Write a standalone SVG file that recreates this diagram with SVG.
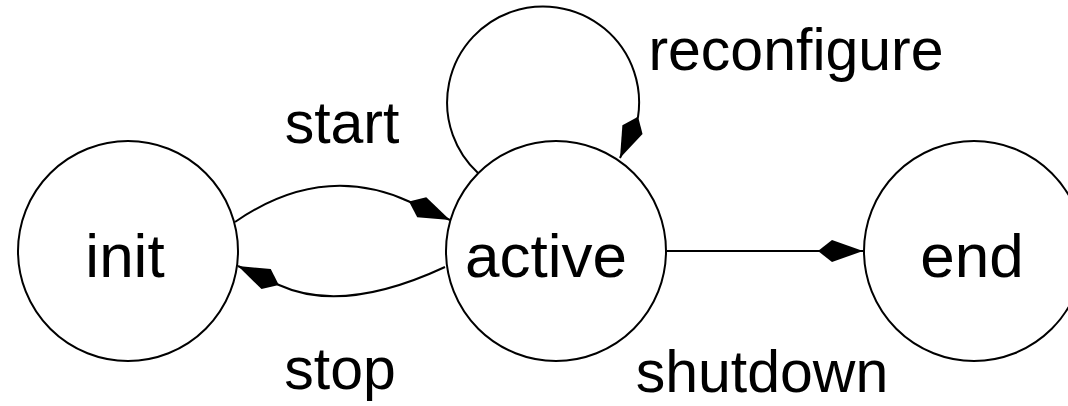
<svg xmlns="http://www.w3.org/2000/svg" width="1068" height="406" viewBox="0 0 1068 406">
  <style>
    .state circle { fill: #fff; stroke: #000; stroke-width: 2; }
    .state text { font-family: "Liberation Sans", Arial, Helvetica, sans-serif; font-size: 62px; text-anchor: middle; fill: #000; }
    .edge path { fill: none; stroke: #000; stroke-width: 2; marker-end: url(#kite); }
    .label { font-family: "Liberation Sans", Arial, Helvetica, sans-serif; font-size: 59px; text-anchor: middle; fill: #000; }
  </style>
  <defs>
    <!-- kite-shaped arrowhead, tip at the node border -->
    <marker id="kite" markerUnits="userSpaceOnUse" markerWidth="46" markerHeight="23" refX="45" refY="11" orient="auto" overflow="visible">
      <path d="M0,11 L14,0 L45,11 L14,22 Z" fill="#000"/>
    </marker>
  </defs>

  <g id="connectors" class="edge">
    <path id="e-start" d="M235,222 Q322,162 409,201.5 L450,220"/>
    <path id="e-stop" d="M445,267 Q343,314.4 279,285 L238,266"/>
    <path id="e-shutdown" d="M667,251 L863,251"/>
    <path id="e-reconfigure" d="M478,173 A96,96 0 1 1 638,117 L620,158"/>
  </g>

  <g id="node-init" class="state">
    <circle cx="128" cy="251" r="110"/>
    <text x="125" y="277">init</text>
  </g>
  <g id="node-active" class="state">
    <circle cx="556" cy="251" r="110"/>
    <text x="546" y="277">active</text>
  </g>
  <g id="node-end" class="state">
    <circle cx="974" cy="251" r="110"/>
    <text x="972" y="277">end</text>
  </g>

  <g id="labels">
    <text class="label" x="342" y="143">start</text>
    <text class="label" x="340" y="389">stop</text>
    <text class="label" x="762" y="392">shutdown</text>
    <text class="label" x="796" y="70">reconfigure</text>
  </g>
</svg>
